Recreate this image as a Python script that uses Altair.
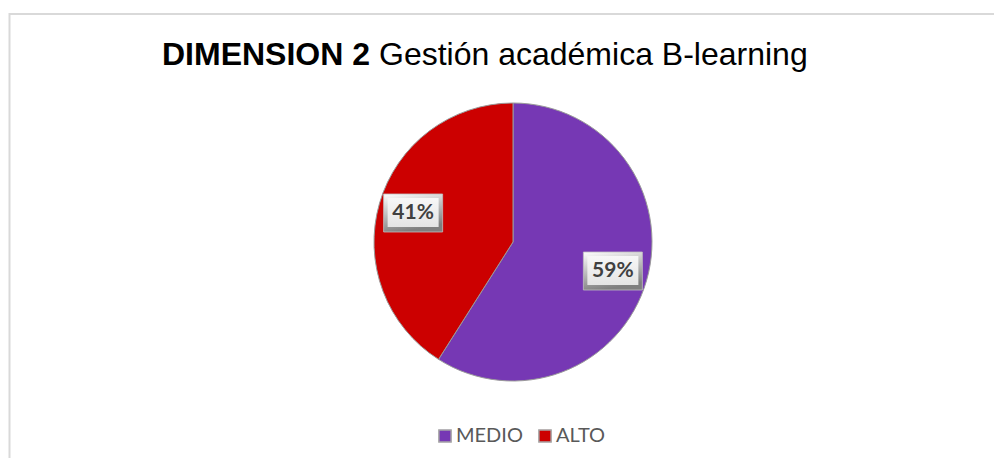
import altair as alt
import pandas as pd

# ---- data ----
categories = ["MEDIO", "ALTO"]
values = [59, 41]
colors = ["#7638b4", "#cc0000"]
title_bold = "DIMENSION 2"
title_rest = "Gestión académica B-learning"

# ---- layout ----
W, H = 986, 450
CX, CY, R = 505, 234, 139
LR = 104

df = pd.DataFrame({"cat": categories, "val": values, "order": list(range(len(categories)))})
base = alt.Chart(df)

pie = base.mark_arc(outerRadius=R, stroke="#9a9a9a", strokeWidth=1.0).encode(
    theta=alt.Theta("val:Q", stack=True),
    color=alt.Color(
        "cat:N",
        scale=alt.Scale(domain=categories, range=colors),
        sort=categories,
        legend=alt.Legend(
            title=None,
            orient="none",
            legendX=427,
            legendY=418,
            direction="horizontal",
            symbolType="square",
            symbolSize=150,
            symbolStrokeColor="#a6a6a6",
            symbolStrokeWidth=1.5,
            labelFont="Lato",
            labelFontSize=20,
            labelColor="#595959",
            labelOffset=1,
            columnPadding=12,
        ),
    ),
    order=alt.Order("order:Q"),
    x=alt.value(CX),
    y=alt.value(CY),
)

lab = (
    base.transform_window(cum="sum(val)", sort=[alt.SortField("order")])
    .transform_joinaggregate(tot="sum(val)")
    .transform_calculate(
        mid="(datum.cum - datum.val/2)/datum.tot*2*PI",
        lx=f"{CX} + {LR}*sin(datum.mid)",
        ly=f"{CY} - {LR}*cos(datum.mid)",
        bx1="datum.lx - 29.5",
        bx2="datum.lx + 29.5",
        by1="datum.ly - 19",
        by2="datum.ly + 19",
        ix1="datum.lx - 25.5",
        ix2="datum.lx + 25.5",
        iy1="datum.ly - 15",
        iy2="datum.ly + 14",
        txt="datum.val + '%'",
    )
)

outer_grad = alt.LinearGradient(
    gradient="linear",
    stops=[alt.GradientStop(color="#ffffff", offset=0), alt.GradientStop(color="#7f7f7f", offset=1)],
    x1=0, x2=0.3, y1=0, y2=1,
)
inner_grad = alt.LinearGradient(
    gradient="linear",
    stops=[alt.GradientStop(color="#f7f7f7", offset=0), alt.GradientStop(color="#e4e4e4", offset=1)],
    x1=0, x2=0, y1=0, y2=1,
)

box_outer = lab.mark_rect(color=outer_grad, stroke="#bfbfbf", strokeWidth=0.8).encode(
    x=alt.X("bx1:Q", scale=None, axis=None),
    x2="bx2:Q",
    y=alt.Y("by1:Q", scale=None, axis=None),
    y2="by2:Q",
)
box_inner = lab.mark_rect(color=inner_grad).encode(
    x=alt.X("ix1:Q", scale=None, axis=None),
    x2="ix2:Q",
    y=alt.Y("iy1:Q", scale=None, axis=None),
    y2="iy2:Q",
)
lab_text = lab.mark_text(font="Lato", fontWeight="bold", fontSize=21, color="#404040", baseline="middle").encode(
    x=alt.X("lx:Q", scale=None, axis=None),
    y=alt.Y("ly:Q", scale=None, axis=None),
    text="txt:N",
)

one = pd.DataFrame({"a": [0]})
frame_top = alt.Chart(one).mark_rule(color="#d9d9d9", strokeWidth=2).encode(
    x=alt.value(1.5), x2=alt.value(W), y=alt.value(6)
)
frame_left = alt.Chart(one).mark_rule(color="#d9d9d9", strokeWidth=2).encode(
    x=alt.value(1.5), y=alt.value(5), y2=alt.value(H)
)

tb = alt.Chart(pd.DataFrame({"t": [title_bold]})).mark_text(
    font="Liberation Sans", fontWeight="bold", fontSize=32, color="#000000", align="left", baseline="alphabetic"
).encode(text="t:N", x=alt.value(154), y=alt.value(57))
tr = alt.Chart(pd.DataFrame({"t": [title_rest]})).mark_text(
    font="Liberation Sans", fontSize=32, color="#000000", align="left", baseline="alphabetic"
).encode(text="t:N", x=alt.value(371), y=alt.value(57))

chart = (
    alt.layer(frame_top, frame_left, pie, box_outer, box_inner, lab_text, tb, tr)
    .properties(width=W, height=H, padding=0, autosize="none", background="white")
    .configure_view(stroke=None)
)

chart.save("out.html", embed_options={"renderer": "svg", "actions": False})
